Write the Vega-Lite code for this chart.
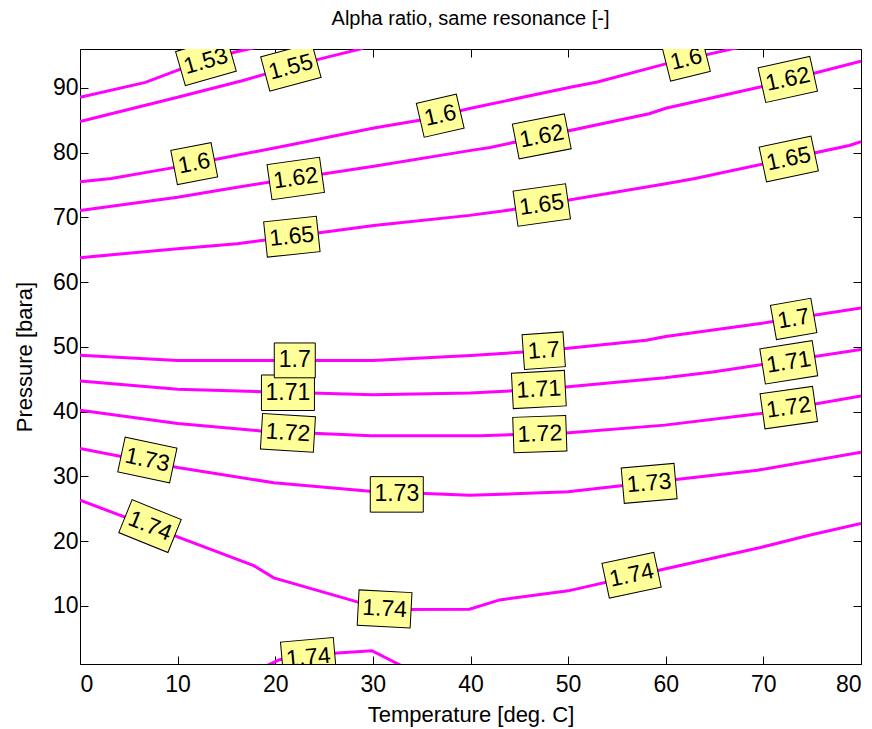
{
  "$schema": "https://vega.github.io/schema/vega-lite/v6.json",
  "width": 781,
  "height": 615,
  "autosize": {"type": "none"},
  "padding": {"left": 80, "top": 49, "right": 11, "bottom": 65},
  "background": "white",
  "title": {"text": "Alpha ratio, same resonance [-]", "fontSize": 20, "font": "Liberation Sans", "fontWeight": "normal", "color": "#000000", "offset": 20, "anchor": "middle"},
  "config": {
    "view": {"stroke": null},
    "axis": {"domainColor": "#000000", "tickColor": "#000000", "labelColor": "#000000", "titleColor": "#000000", "labelFont": "Liberation Sans", "titleFont": "Liberation Sans", "labelFontSize": 23, "titleFontSize": 22, "titleFontWeight": "normal", "grid": false, "tickSize": -8, "domainWidth": 1, "tickWidth": 1}
  },
  "datasets": {
    "lines": [
      {"line": "1.53", "T": 0, "P": 88.55}, {"line": "1.53", "T": 6.7, "P": 90.85}, {"line": "1.53", "T": 10.3, "P": 92.9}, {"line": "1.53", "T": 15.8, "P": 95.5}, {"line": "1.53", "T": 18.5, "P": 96.4},
      {"line": "1.55", "T": 0, "P": 84.8}, {"line": "1.55", "T": 3.2, "P": 86.0}, {"line": "1.55", "T": 10, "P": 88.55}, {"line": "1.55", "T": 16.6, "P": 91.1}, {"line": "1.55", "T": 18.7, "P": 92.0}, {"line": "1.55", "T": 24.4, "P": 94.4}, {"line": "1.55", "T": 29, "P": 96.1},
      {"line": "1.6", "T": 0, "P": 75.5}, {"line": "1.6", "T": 3.2, "P": 76.0}, {"line": "1.6", "T": 9.3, "P": 77.6}, {"line": "1.6", "T": 14.1, "P": 79.0}, {"line": "1.6", "T": 21.6, "P": 81.2}, {"line": "1.6", "T": 30.1, "P": 83.8}, {"line": "1.6", "T": 34.8, "P": 85.0}, {"line": "1.6", "T": 39.9, "P": 86.8}, {"line": "1.6", "T": 50.2, "P": 90.1}, {"line": "1.6", "T": 53, "P": 90.9}, {"line": "1.6", "T": 60, "P": 93.7}, {"line": "1.6", "T": 66.5, "P": 95.9}, {"line": "1.6", "T": 68, "P": 96.4},
      {"line": "1.62", "T": 0, "P": 71.06}, {"line": "1.62", "T": 10, "P": 73.1}, {"line": "1.62", "T": 16.1, "P": 74.66}, {"line": "1.62", "T": 30.1, "P": 77.9}, {"line": "1.62", "T": 39.9, "P": 80.3}, {"line": "1.62", "T": 42, "P": 80.8}, {"line": "1.62", "T": 58.3, "P": 86.0}, {"line": "1.62", "T": 60, "P": 86.85}, {"line": "1.62", "T": 69.9, "P": 90.2}, {"line": "1.62", "T": 80, "P": 94.1},
      {"line": "1.65", "T": 0, "P": 63.77}, {"line": "1.65", "T": 10, "P": 65.15}, {"line": "1.65", "T": 16.1, "P": 65.9}, {"line": "1.65", "T": 30.1, "P": 68.75}, {"line": "1.65", "T": 39.9, "P": 70.3}, {"line": "1.65", "T": 43.3, "P": 70.96}, {"line": "1.65", "T": 60, "P": 75.2}, {"line": "1.65", "T": 63, "P": 76.0}, {"line": "1.65", "T": 78.8, "P": 81.1}, {"line": "1.65", "T": 80, "P": 81.7},
      {"line": "1.7", "T": 0, "P": 48.7}, {"line": "1.7", "T": 10, "P": 47.9}, {"line": "1.7", "T": 30, "P": 47.9}, {"line": "1.7", "T": 40, "P": 48.65}, {"line": "1.7", "T": 47.5, "P": 49.4}, {"line": "1.7", "T": 58, "P": 51.0}, {"line": "1.7", "T": 60, "P": 51.6}, {"line": "1.7", "T": 69.7, "P": 53.6}, {"line": "1.7", "T": 80, "P": 56.0},
      {"line": "1.71", "T": 0, "P": 44.7}, {"line": "1.71", "T": 10, "P": 43.45}, {"line": "1.71", "T": 20, "P": 43.0}, {"line": "1.71", "T": 30, "P": 42.6}, {"line": "1.71", "T": 40, "P": 42.85}, {"line": "1.71", "T": 47, "P": 43.4}, {"line": "1.71", "T": 59.9, "P": 45.2}, {"line": "1.71", "T": 64.8, "P": 46.1}, {"line": "1.71", "T": 80, "P": 49.6},
      {"line": "1.72", "T": 0, "P": 40.2}, {"line": "1.72", "T": 10, "P": 38.15}, {"line": "1.72", "T": 18.5, "P": 37.0}, {"line": "1.72", "T": 29.8, "P": 36.25}, {"line": "1.72", "T": 41, "P": 36.25}, {"line": "1.72", "T": 49.8, "P": 36.7}, {"line": "1.72", "T": 59.9, "P": 37.9}, {"line": "1.72", "T": 69.7, "P": 39.7}, {"line": "1.72", "T": 80, "P": 42.4},
      {"line": "1.73", "T": 0, "P": 34.3}, {"line": "1.73", "T": 10, "P": 31.35}, {"line": "1.73", "T": 19.85, "P": 29.0}, {"line": "1.73", "T": 29.7, "P": 27.7}, {"line": "1.73", "T": 39.9, "P": 27.05}, {"line": "1.73", "T": 50, "P": 27.6}, {"line": "1.73", "T": 69.4, "P": 30.94}, {"line": "1.73", "T": 80, "P": 33.7},
      {"line": "1.74a", "T": 0, "P": 26.3}, {"line": "1.74a", "T": 10, "P": 20.65}, {"line": "1.74a", "T": 17.8, "P": 16.2}, {"line": "1.74a", "T": 19.85, "P": 14.3}, {"line": "1.74a", "T": 28.4, "P": 10.6}, {"line": "1.74a", "T": 32.5, "P": 9.4}, {"line": "1.74a", "T": 39.9, "P": 9.45}, {"line": "1.74a", "T": 43, "P": 10.9}, {"line": "1.74a", "T": 50, "P": 12.3}, {"line": "1.74a", "T": 60, "P": 15.7}, {"line": "1.74a", "T": 69.7, "P": 19.0}, {"line": "1.74a", "T": 74.7, "P": 20.9}, {"line": "1.74a", "T": 80, "P": 22.7},
      {"line": "1.74b", "T": 18.5, "P": 0.3}, {"line": "1.74b", "T": 20.5, "P": 1.7}, {"line": "1.74b", "T": 26, "P": 2.65}, {"line": "1.74b", "T": 29.9, "P": 3.05}, {"line": "1.74b", "T": 33.5, "P": 0.3}
    ],
    "labels": [
      {"label": "1.53", "T": 12.9, "P": 94.1, "angle": -16},
      {"label": "1.55", "T": 21.6, "P": 93.2, "angle": -15},
      {"label": "1.6", "T": 11.7, "P": 78.3, "angle": -11},
      {"label": "1.6", "T": 36.9, "P": 85.7, "angle": -13},
      {"label": "1.6", "T": 62.1, "P": 94.4, "angle": -14},
      {"label": "1.62", "T": 22.1, "P": 76.0, "angle": -8},
      {"label": "1.62", "T": 47.3, "P": 82.5, "angle": -11},
      {"label": "1.62", "T": 72.5, "P": 91.3, "angle": -12.5},
      {"label": "1.65", "T": 21.7, "P": 67.0, "angle": -6},
      {"label": "1.65", "T": 47.3, "P": 71.9, "angle": -8},
      {"label": "1.65", "T": 72.6, "P": 79.0, "angle": -12},
      {"label": "1.7", "T": 22, "P": 47.9, "angle": 0},
      {"label": "1.7", "T": 47.5, "P": 49.4, "angle": -4},
      {"label": "1.7", "T": 73.1, "P": 54.3, "angle": -10},
      {"label": "1.71", "T": 21.3, "P": 42.9, "angle": 0},
      {"label": "1.71", "T": 47, "P": 43.4, "angle": -3},
      {"label": "1.71", "T": 72.6, "P": 47.6, "angle": -9},
      {"label": "1.72", "T": 21.3, "P": 36.7, "angle": 3.5},
      {"label": "1.72", "T": 47.1, "P": 36.5, "angle": -2},
      {"label": "1.72", "T": 72.6, "P": 40.6, "angle": -8},
      {"label": "1.73", "T": 6.9, "P": 32.5, "angle": 12},
      {"label": "1.73", "T": 32.45, "P": 27.2, "angle": 0},
      {"label": "1.73", "T": 58.3, "P": 28.9, "angle": -5},
      {"label": "1.74", "T": 7.17, "P": 22.3, "angle": 22},
      {"label": "1.74", "T": 31.2, "P": 9.5, "angle": 3},
      {"label": "1.74", "T": 56.5, "P": 14.7, "angle": -12},
      {"label": "1.74", "T": 23.4, "P": 2.0, "angle": -5}
    ]
  },
  "layer": [
    {
      "data": {"name": "lines"},
      "mark": {"type": "line", "color": "#ff00ff", "strokeWidth": 3, "clip": true},
      "encoding": {
        "x": {"field": "T", "type": "quantitative", "scale": {"domain": [0, 80], "nice": false, "zero": false},
              "axis": {"orient": "bottom", "values": [0, 10, 20, 30, 40, 50, 60, 70, 80], "title": "Temperature [deg. C]", "labelPadding": 17, "titlePadding": 8}},
        "y": {"field": "P", "type": "quantitative", "scale": {"domain": [1, 96], "nice": false, "zero": false},
              "axis": {"orient": "left", "values": [10, 20, 30, 40, 50, 60, 70, 80, 90], "title": "Pressure [bara]", "labelPadding": 10, "titlePadding": 16}},
        "detail": {"field": "line", "type": "nominal"}
      }
    },
    {
      "data": {"name": "labels"},
      "transform": [{"filter": "length(datum.label) == 4"}],
      "mark": {"type": "point", "shape": "M-1,-0.67H1V0.67H-1Z", "filled": true, "fill": "#ffff99", "stroke": "#000000", "strokeWidth": 1, "size": 2809, "opacity": 1, "clip": true},
      "encoding": {
        "x": {"field": "T", "type": "quantitative", "axis": null},
        "y": {"field": "P", "type": "quantitative", "axis": null},
        "angle": {"field": "angle", "type": "quantitative", "scale": null}
      }
    },
    {
      "data": {"name": "labels"},
      "transform": [{"filter": "length(datum.label) == 3"}],
      "mark": {"type": "point", "shape": "M-1,-0.85H1V0.85H-1Z", "filled": true, "fill": "#ffff99", "stroke": "#000000", "strokeWidth": 1, "size": 1681, "opacity": 1, "clip": true},
      "encoding": {
        "x": {"field": "T", "type": "quantitative", "axis": null},
        "y": {"field": "P", "type": "quantitative", "axis": null},
        "angle": {"field": "angle", "type": "quantitative", "scale": null}
      }
    },
    {
      "data": {"name": "labels"},
      "mark": {"type": "text", "font": "Liberation Sans", "fontSize": 23, "color": "#000000", "align": "center", "baseline": "middle", "clip": true},
      "encoding": {
        "x": {"field": "T", "type": "quantitative", "axis": {"orient": "top", "values": [0, 10, 20, 30, 40, 50, 60, 70, 80], "labels": false, "title": null}},
        "y": {"field": "P", "type": "quantitative", "axis": {"orient": "right", "values": [10, 20, 30, 40, 50, 60, 70, 80, 90], "labels": false, "title": null}},
        "text": {"field": "label", "type": "nominal"},
        "angle": {"field": "angle", "type": "quantitative", "scale": null}
      }
    }
  ],
  "resolve": {"axis": {"x": "independent", "y": "independent"}}
}
